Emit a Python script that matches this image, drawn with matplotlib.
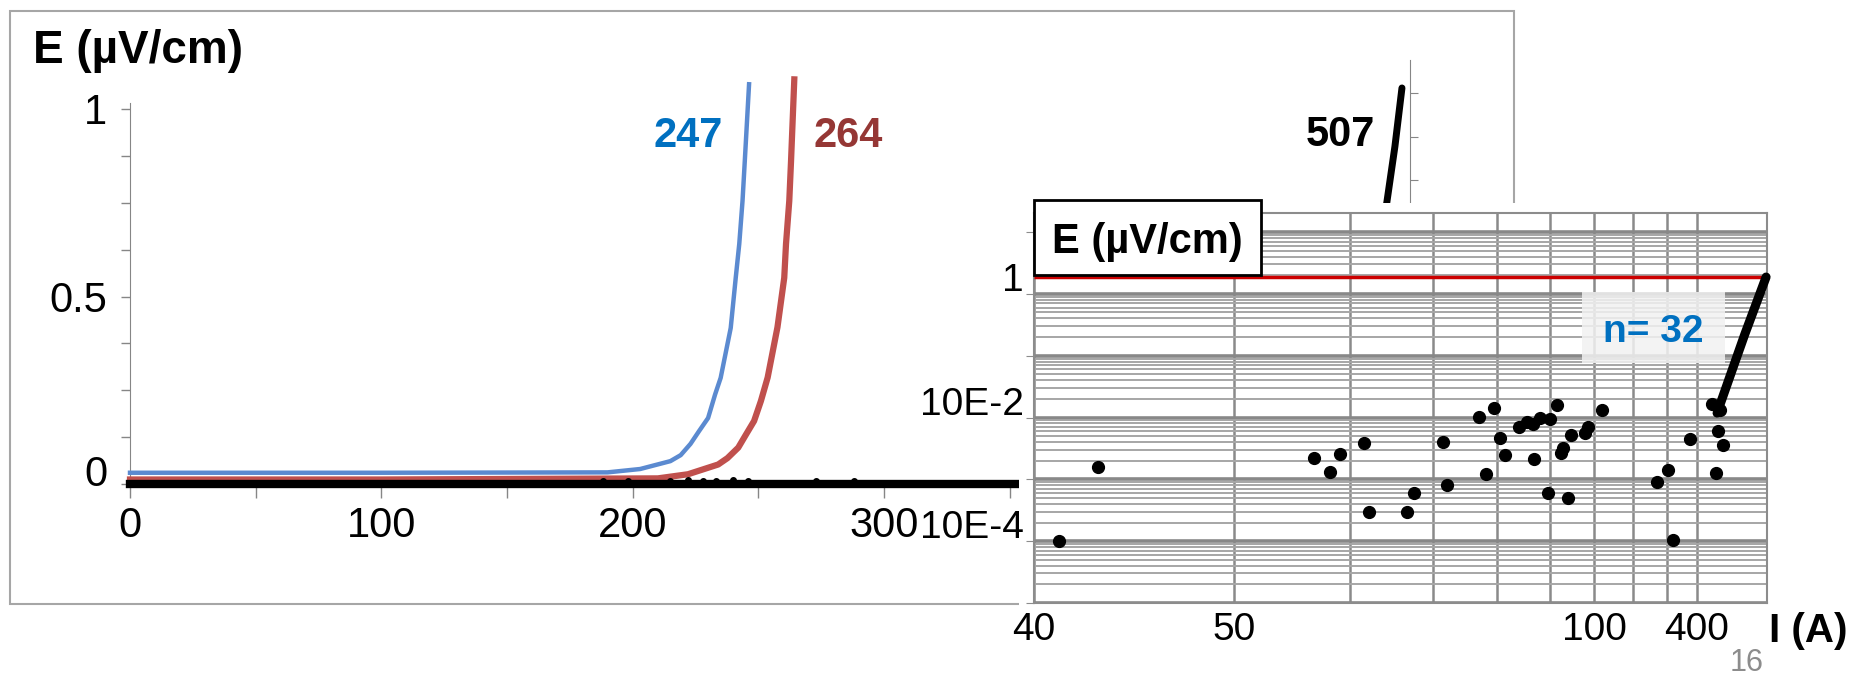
# E-I curves with log-log inset (n = 32 samples)

import numpy as np
import matplotlib.pyplot as plt
import matplotlib.transforms as mtransforms
from matplotlib.patches import Rectangle
from matplotlib.ticker import LogLocator, NullFormatter

plt.rcParams['font.family'] = ['Liberation Sans', 'DejaVu Sans']

# ---- data: linear E-I curves (left chart) ----
i_247 = [0, 100, 190, 203, 215, 219.1, 223, 226.4, 230, 232.8, 235, 239, 241.0, 242.4, 243.7, 244.6, 246.3]
e_247 = [0.030, 0.030, 0.031, 0.040, 0.061, 0.077, 0.107, 0.141, 0.176, 0.239, 0.283, 0.416, 0.55,
         0.640, 0.755, 0.861, 1.066]
i_264 = [0, 100, 210, 222, 234, 237.7, 242, 245, 248.3, 251.0, 253.7, 257.6, 260.3, 261.0, 262.3, 263.0, 264.3]
e_264 = [0.012, 0.012, 0.015, 0.026, 0.052, 0.069, 0.097, 0.131, 0.168, 0.221, 0.284, 0.418, 0.55,
         0.640, 0.755, 0.861, 1.079]
i_507_low = [0, 354]
e_507_low = [0.0, 0.0]
i_507_dots = [188, 198, 215, 222, 228, 233, 240, 246, 273, 288]
e_507_dots = [0.008, 0.009, 0.008, 0.010, 0.009, 0.008, 0.010, 0.009, 0.008, 0.009]

# upper part of the 507 curve (separate little chart)
i_507_top = [507.0, 504.2, 501.0, 498.0]
e_507_top = [1.014, 0.847, 0.688, 0.55]

# ---- data: log-log inset ----
inset_i = [10.9, 12.5, 26.4, 28.0, 28.9, 31.5, 32.0, 36.5, 37.4, 41.4,
           42.0, 46.9, 49.4, 48.1, 50.5, 51.3, 53.9, 55.4, 56.6, 58.0,
           60.0, 61.5, 64.6, 56.8, 62.4, 62.8, 59.6, 63.9, 67.8, 68.5,
           71.9, 87.0, 90.4, 92.0, 97.6, 105.3, 108.3, 107.6, 109.5, 106.8]
inset_e = [1.0e-4, 1.58e-3, 2.21e-3, 1.31e-3, 2.56e-3, 3.86e-3, 2.96e-4, 2.96e-4, 6.0e-4, 4.01e-3,
           8.1e-4, 1.02e-2, 1.42e-2, 1.22e-3, 4.66e-3, 2.47e-3, 7.0e-3, 8.45e-3, 7.84e-3, 9.8e-3,
           9.44e-3, 1.59e-2, 5.2e-3, 2.13e-3, 2.66e-3, 3.21e-3, 6.0e-4, 5.0e-4, 5.61e-3, 7.0e-3,
           1.32e-2, 9.0e-4, 1.41e-3, 1.04e-4, 4.49e-3, 1.65e-2, 1.32e-2, 6.04e-3, 3.59e-3, 1.26e-3]
inset_line_i = [107.2, 112.0, 118.0, 127.1]
inset_line_e = [0.0118, 0.045, 0.22, 1.87]
crit_e = 1.87

inset_xticks = [10, 20, 70, 100]
inset_xlabels = ['40', '50', '100', '400']
inset_yticks = [1e-5, 1e-4, 1e-3, 1e-2, 1e-1, 1, 10]
inset_ylabels = ['', '10E-4', '', '10E-2', '', '1', '']

W, H = 1853, 678
fig = plt.figure(figsize=(W / 100, H / 100), dpi=100)


def fax(x0, y0, x1, y1, **kw):
    # axes from pixel box (top-left origin)
    return fig.add_axes([x0 / W, 1 - y1 / H, (x1 - x0) / W, (y1 - y0) / H], **kw)


# background frame of the pasted chart
ax_bg = fig.add_axes([0, 0, 1, 1], zorder=0)
ax_bg.set_xlim(0, W)
ax_bg.set_ylim(H, 0)
ax_bg.axis('off')
ax_bg.add_patch(Rectangle((10, 11), 1504, 593, fill=False, edgecolor='#a6a6a6', lw=1.5))

# ---- main linear chart ----
ax1 = fax(130, 103, 1018.5, 484, zorder=1)
ax1.patch.set_alpha(0)
ax1.plot(i_247, e_247, color='#5b8ad0', lw=3.2, clip_on=False, zorder=3, solid_joinstyle='round')
ax1.plot(i_264, e_264, color='#c0504d', lw=4.5, clip_on=False, zorder=3, solid_joinstyle='round')
ax1.plot(i_507_low, e_507_low, color='black', lw=6, clip_on=False, zorder=4)
ax1.plot(i_507_dots, e_507_dots, 'o', color='black', ms=4, clip_on=False, zorder=4)
ax1.set_xlim(0, 353.5)
ax1.set_ylim(0, 1.016)
ax1.set_xticks([0, 50, 100, 150, 200, 250, 300, 350], ['0', '', '100', '', '200', '', '300', ''])
ax1.set_yticks([0, 0.5, 1], ['0', '0.5', '1'])
ax1.set_yticks(np.arange(0, 1.01, 0.125), minor=True)
for s in ['top', 'right']:
    ax1.spines[s].set_visible(False)
for s in ['left', 'bottom']:
    ax1.spines[s].set_color('#868686')
ax1.tick_params(axis='x', length=10, pad=5.5, labelsize=30, color='#868686', width=1)
ax1.tick_params(axis='y', which='both', length=6.5, pad=10, labelsize=30, color='#868686', width=1)
ax1.text(222, 0.899, '247', color='#0070c0', fontsize=30, fontweight='bold', ha='center', va='baseline')
ax1.text(285.7, 0.899, '264', color='#953735', fontsize=30, fontweight='bold', ha='center', va='baseline')

# ---- 507 chart peeking out at the top ----
ax3 = fax(1300, 60, 1410, 203, zorder=1)
ax3.patch.set_alpha(0)
ax3.plot(i_507_top, e_507_top, color='black', lw=5, solid_capstyle='round')
ax3.set_xlim(466.4, 510.2)
ax3.set_ylim(0.685, 1.094)
for s in ['top', 'left', 'bottom']:
    ax3.spines[s].set_visible(False)
ax3.spines['right'].set_color('#868686')
ax3.set_xticks([])
ax3.yaxis.tick_right()
ax3.set_yticks([0.75, 0.875, 1.0], ['', '', ''])
ax3.tick_params(axis='y', length=5.8, color='#868686')
ax3.text(482.3, 0.847, '507', color='black', fontsize=30, fontweight='bold',
         ha='center', va='baseline', clip_on=False)

# white cover where the inset picture sits
ax_cov = fax(1019, 203, W, H, zorder=2)
ax_cov.set_xticks([])
ax_cov.set_yticks([])
for s in ax_cov.spines.values():
    s.set_visible(False)

# ---- inset log-log chart ----
ax2 = fax(1034, 213, 1767, 603, zorder=3)
ax2.set_xscale('log')
ax2.set_yscale('log')
ax2.set_xlim(10, 127.5)
ax2.set_ylim(1e-5, 20.3)
ax2.set_axisbelow(True)
ax2.xaxis.set_minor_locator(LogLocator(base=10, subs=np.arange(2, 10)))
ax2.yaxis.set_minor_locator(LogLocator(base=10, subs=np.arange(2, 10), numticks=20))
ax2.xaxis.set_minor_formatter(NullFormatter())
ax2.yaxis.set_minor_formatter(NullFormatter())
ax2.set_xticks(inset_xticks, inset_xlabels)
ax2.set_yticks(inset_yticks, inset_ylabels)
ax2.grid(True, axis='x', which='both', color='#8a8a8a', lw=1.8)
ax2.grid(True, axis='y', which='major', color='#888888', lw=2.6)
ax2.grid(True, axis='y', which='minor', color='#a6a6a6', lw=1.4)
ax2.tick_params(axis='x', which='both', length=0, pad=6.5, labelsize=28)
ax2.tick_params(axis='y', which='major', length=5.8, pad=1.4, labelsize=28, color='#8c8c8c')
ax2.tick_params(axis='y', which='minor', length=0)
for s in ax2.spines.values():
    s.set_color('#8c8c8c')
    s.set_linewidth(1.5)
ax2.hlines(crit_e, 10, 126, color='#cc0000', lw=2.5, zorder=3)
ax2.plot(inset_line_i, inset_line_e, color='black', lw=6.5, solid_capstyle='round', clip_on=False, zorder=4)
ax2.plot(inset_i, inset_e, 'o', color='black', ms=8.5, zorder=4)

# labels drawn a bit above their gridlines as in the slide
off2 = mtransforms.ScaledTranslation(0, 17 / 100, fig.dpi_scale_trans)
for lbl in ax2.get_yticklabels():
    lbl.set_transform(lbl.get_transform() + off2)
off1 = mtransforms.ScaledTranslation(0, 13 / 100, fig.dpi_scale_trans)
lbl0 = ax1.get_yticklabels()[0]
lbl0.set_transform(lbl0.get_transform() + off1)

# ---- overlay texts and boxes ----
ax_top = fig.add_axes([0, 0, 1, 1], zorder=5)
ax_top.set_xlim(0, W)
ax_top.set_ylim(H, 0)
ax_top.axis('off')
ax_top.text(33, 63, 'E (µV/cm)', fontsize=33, fontweight='bold', ha='left', va='baseline')
ax_top.add_patch(Rectangle((1034, 200), 227, 75, facecolor='white', edgecolor='black', lw=2))
ax_top.text(1147, 253, 'E (µV/cm)', fontsize=30, fontweight='bold', ha='center', va='baseline')
ax_top.add_patch(Rectangle((1582, 292), 143, 71, facecolor='#f2f2f2', edgecolor='none', alpha=0.85))
ax_top.text(1653, 342, 'n= 32', color='#0070c0', fontsize=28, fontweight='bold', ha='center', va='baseline')
ax_top.text(1808, 642, 'I (A)', fontsize=29, fontweight='bold', ha='center', va='baseline')
ax_top.text(1747, 671, '16', color='#8c8c8c', fontsize=22, ha='center', va='baseline')

fig.savefig('out.png', dpi=100)
